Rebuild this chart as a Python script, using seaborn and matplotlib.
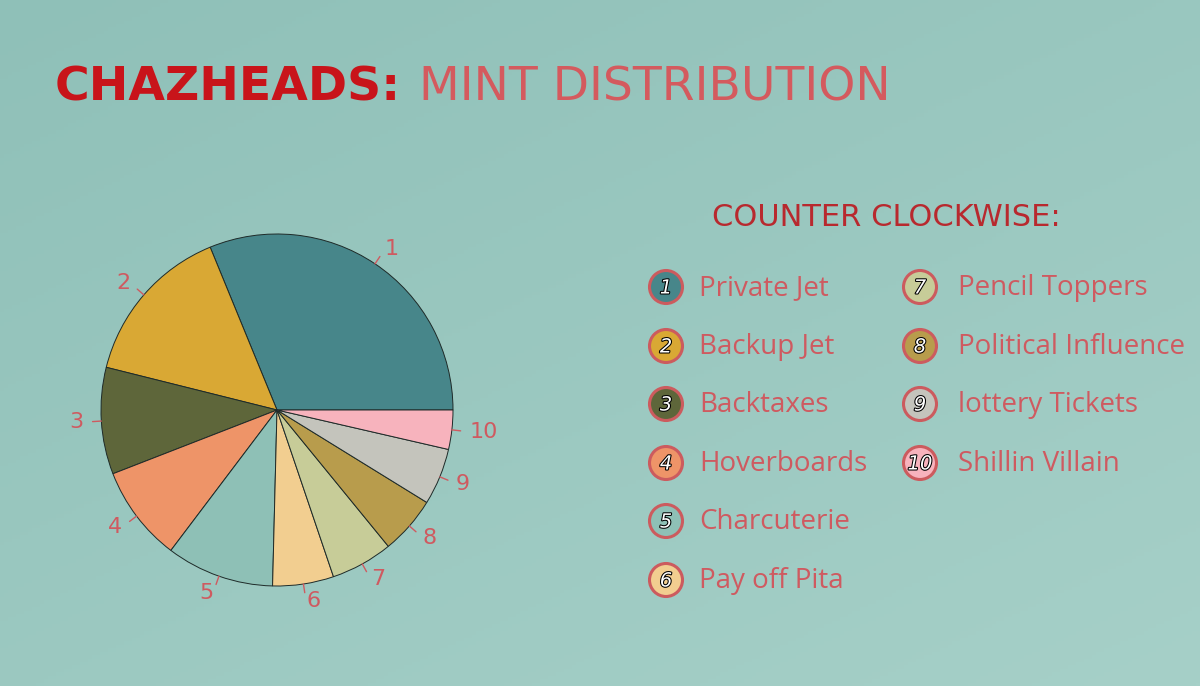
import matplotlib.pyplot as plt
import matplotlib.patheffects as pe
import numpy as np
import seaborn as sns
from matplotlib.patches import Circle

# Data (share of the mint, %)
slice_ids = ["1", "2", "3", "4", "5", "6", "7", "8", "9", "10"]
slice_names = [
    "Private Jet", "Backup Jet", "Backtaxes", "Hoverboards", "Charcuterie",
    "Pay off Pita", "Pencil Toppers", "Political Influence", "lottery Tickets",
    "Shillin Villain",
]
slice_shares = [31.2, 14.9, 9.8, 8.8, 9.9, 5.6, 5.7, 5.3, 5.2, 3.6]
slice_colors = [
    "#47868a", "#d9a834", "#5e663a", "#ee9468", "#8ec0b6",
    "#f2ce90", "#c7cc98", "#b89c4c", "#c4c4bc", "#f7b3bd",
]

LABEL_RED = "#cf5a60"
TITLE_DARK = "#c8141a"
TITLE_LIGHT = "#d45a5e"
SUB_RED = "#b8292e"

sns.set_theme(style="white")
plt.rcParams["font.family"] = ["DejaVu Sans"]

W, H = 1200, 686
fig = plt.figure(figsize=(W / 100, H / 100), dpi=100)

# --- background gradient ---
bg = fig.add_axes([0, 0, 1, 1])
xx, yy = np.meshgrid(np.linspace(0, 1, 300), np.linspace(0, 1, 200))
t = (xx * 0.45 + yy * 0.55)
c0 = np.array([0x8f, 0xc0, 0xb8]) / 255
c1 = np.array([0xa6, 0xd0, 0xc8]) / 255
img = c0[None, None, :] * (1 - t[..., None]) + c1[None, None, :] * t[..., None]
bg.imshow(img, extent=[0, W, H, 0], aspect="auto")
bg.set_xlim(0, W)
bg.set_ylim(H, 0)
bg.axis("off")

# --- pie ---
cx, cy, r = 277, 410, 176
span = r * 1.25
ax = fig.add_axes([(cx - span) / W, (H - cy - span) / H, 2 * span / W, 2 * span / H])
wedges, texts = ax.pie(
    slice_shares,
    colors=slice_colors,
    startangle=0,
    counterclock=True,
    labels=slice_ids,
    labeldistance=1.1,
    wedgeprops=dict(edgecolor="#1e2a28", linewidth=0.7),
    textprops=dict(color=LABEL_RED, fontsize=16),
)
for w in wedges:
    mid = np.deg2rad((w.theta1 + w.theta2) / 2)
    ax.plot([np.cos(mid), 1.05 * np.cos(mid)], [np.sin(mid), 1.05 * np.sin(mid)],
            color=LABEL_RED, lw=1.0)
ax.set_xlim(-1.25, 1.25)
ax.set_ylim(-1.25, 1.25)
ax.set_aspect("equal")
ax.axis("off")

# --- titles ---
t1 = bg.text(55, 88, "CHAZHEADS:", color=TITLE_DARK, fontsize=34, fontweight="bold",
             va="center", ha="left")
fig.canvas.draw()
bb = t1.get_window_extent()
bg.text(bb.x1 + 18, 88, "MINT DISTRIBUTION", color=TITLE_LIGHT, fontsize=34,
        va="center", ha="left")
bg.text(712, 218, "COUNTER CLOCKWISE:", color=SUB_RED, fontsize=22,
        va="center", ha="left")

# --- legend ---
row_y = [287, 346, 404, 463, 521, 580]
for i, (num, name, col) in enumerate(zip(slice_ids, slice_names, slice_colors)):
    if i < 6:
        x0, y0 = 666, row_y[i]
        tx = 699
    else:
        x0, y0 = 920, row_y[i - 6]
        tx = 958
    bg.add_patch(Circle((x0, y0), 16.5, facecolor=col, edgecolor="#cc5b5e", lw=2.2, zorder=3))
    bg.text(x0, y0 + 1, num, color="white", fontsize=14, fontstyle="italic",
            ha="center", va="center", zorder=4,
            path_effects=[pe.withStroke(linewidth=1.5, foreground="black")])
    bg.text(tx, y0 + 1, name, color=LABEL_RED, fontsize=20, ha="left", va="center",
            family=["Open Sans", "DejaVu Sans"])

fig.savefig("out.png", dpi=100)
